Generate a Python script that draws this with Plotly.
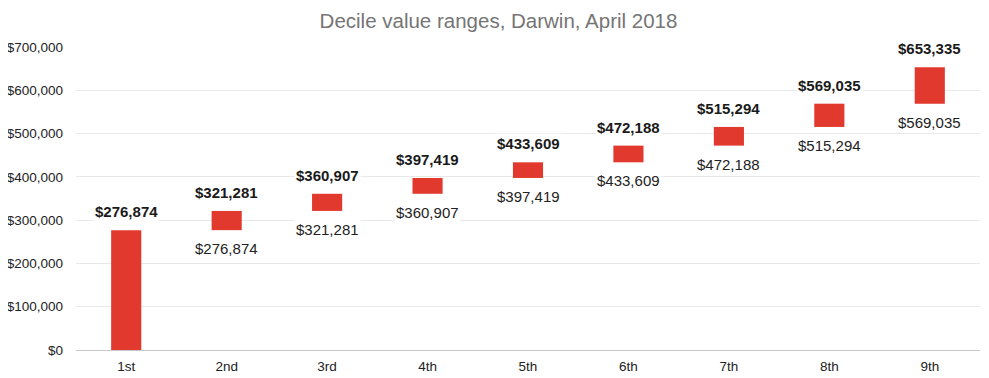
import plotly.graph_objects as go

categories = ["1st", "2nd", "3rd", "4th", "5th", "6th", "7th", "8th", "9th"]
upper = [276874, 321281, 360907, 397419, 433609, 472188, 515294, 569035, 653335]
lower = [0, 276874, 321281, 360907, 397419, 433609, 472188, 515294, 569035]
ytickvals = [0, 100000, 200000, 300000, 400000, 500000, 600000, 700000]

BAR = "#E2392F"
FONT = "Liberation Sans, Arial, sans-serif"

# the page body has an 8px margin, so the figure is sized to fit the window
W, H = 981, 370

fig = go.Figure()
fig.add_trace(go.Bar(
    x=categories,
    y=[u - l for u, l in zip(upper, lower)],
    base=lower,
    marker=dict(color=BAR, line=dict(width=0)),
    width=0.3,
    hoverinfo="skip",
))

annotations = []
for c, u, l in zip(categories, upper, lower):
    annotations.append(dict(
        x=c, y=u, xref="x", yref="y", text=f"<b>${u:,}</b>",
        showarrow=False, yanchor="bottom", yshift=8,
        font=dict(size=15, color="#1a1a1a", family=FONT),
        bgcolor="white", borderpad=1,
    ))
    if l > 0:
        annotations.append(dict(
            x=c, y=l, xref="x", yref="y", text=f"${l:,}",
            showarrow=False, yanchor="top", yshift=-8,
            font=dict(size=15, color="#222222", family=FONT),
            bgcolor="white", borderpad=1,
        ))

fig.update_layout(
    width=W, height=H,
    margin=dict(l=68, r=9, t=39, b=28, autoexpand=False),
    plot_bgcolor="white", paper_bgcolor="white",
    showlegend=False,
    title=dict(text="Decile value ranges, Darwin, April 2018", x=0.5, xanchor="center",
               y=1 - 13 / H, yref="container", yanchor="middle", automargin=False,
               font=dict(size=20.5, color="#757575", family=FONT)),
    annotations=annotations,
    bargap=0.7,
)
fig.update_xaxes(
    tickfont=dict(size=13.5, color="#222222", family=FONT),
    showgrid=False, showline=False, ticks="", automargin=False,
    ticklabelstandoff=6,
)
fig.update_yaxes(
    range=[0, 700000], tickvals=ytickvals,
    ticktext=[f"${v:,}" for v in ytickvals],
    tickfont=dict(size=13.5, color="#222222", family=FONT),
    showgrid=True, gridcolor="#e8e8e8", gridwidth=1,
    zeroline=True, zerolinecolor="#c8c8c8", zerolinewidth=1,
    ticks="", ticklabelstandoff=12, automargin=False,
)

fig.write_html("out.html")
